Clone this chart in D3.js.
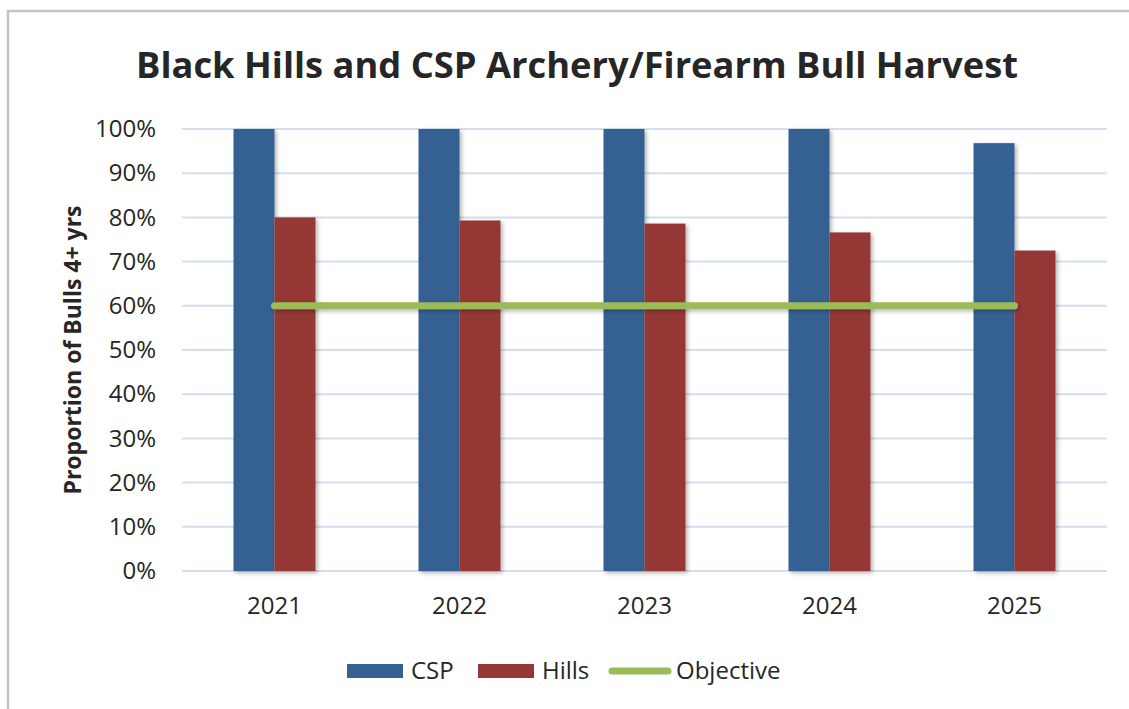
<!DOCTYPE html>
<html>
<head>
<meta charset="utf-8">
<script src="https://cdn.jsdelivr.net/npm/d3@7"></script>
<style>
	body { margin: 0; background: #fff; }
	text { font-family: 'Open Sans', sans-serif; fill: #262626; }
</style>
</head>
<body>
<script>
var years = ['2021', '2022', '2023', '2024', '2025'];
var seriesNames = ['CSP', 'Hills'];
var cspValues = [1.00, 1.00, 1.00, 1.00, 0.968];
var hillsValues = [0.800, 0.793, 0.786, 0.766, 0.725];
var objectiveValues = [0.60, 0.60, 0.60, 0.60, 0.60];
var yTicks = [0, 0.1, 0.2, 0.3, 0.4, 0.5, 0.6, 0.7, 0.8, 0.9, 1.0];
var legendItems = ['CSP', 'Hills', 'Objective'];

var colors = { CSP: '#366092', Hills: '#953735', Objective: '#9bbb59' };

var width = 1129, height = 709;
var plot = { left: 182, right: 1107, top: 129, bottom: 571 };

var svg = d3.select('body').append('svg')
	.attr('width', width)
	.attr('height', height);

// drop shadow like the office chart (user space so flat lines keep it)
var defs = svg.append('defs');
defs.append('filter').attr('id', 'shadow')
	.attr('filterUnits', 'userSpaceOnUse')
	.attr('x', 0).attr('y', 0).attr('width', width).attr('height', height)
	.append('feDropShadow')
	.attr('dx', 2).attr('dy', 2).attr('stdDeviation', 2)
	.attr('flood-color', '#000').attr('flood-opacity', 0.3);

svg.append('rect').attr('width', width).attr('height', height).attr('fill', '#fff');

// chart border (cropped on right and bottom)
svg.append('rect')
	.attr('x', 8).attr('y', 11)
	.attr('width', 1160).attr('height', 760)
	.attr('fill', 'none').attr('stroke', '#c4c4c4').attr('stroke-width', 2.5);

var x0 = d3.scaleBand().domain(years)
	.range([plot.left, plot.right])
	.paddingInner(0.557).paddingOuter(0.2785);
var x1 = d3.scaleBand().domain(seriesNames).range([0, x0.bandwidth()]);
var y = d3.scaleLinear().domain([0, 1]).range([plot.bottom, plot.top]);

// gridlines
svg.append('g').selectAll('line').data(yTicks).enter().append('line')
	.attr('x1', plot.left).attr('x2', plot.right)
	.attr('y1', function (d) { return y(d); })
	.attr('y2', function (d) { return y(d); })
	.attr('stroke', '#d3dfee').attr('stroke-width', 2);

// y axis labels
var yAxis = d3.axisLeft(y).tickValues(yTicks).tickFormat(d3.format('.0%')).tickSize(0).tickPadding(0);
var yg = svg.append('g').attr('transform', 'translate(156,0)').call(yAxis);
yg.select('.domain').remove();
yg.selectAll('text').attr('font-size', 24).attr('font-family', "'Open Sans', sans-serif").attr('fill', '#262626');

// x axis labels
var xAxis = d3.axisBottom(x0).tickSize(0).tickPadding(0);
var xg = svg.append('g').attr('transform', 'translate(0,' + (plot.bottom + 26) + ')').call(xAxis);
xg.select('.domain').remove();
xg.selectAll('text').attr('font-size', 24).attr('font-family', "'Open Sans', sans-serif").attr('fill', '#262626');

// bars
var rows = years.map(function (yr, i) {
	return { year: yr, CSP: cspValues[i], Hills: hillsValues[i] };
});
svg.append('g').selectAll('g').data(rows).enter().append('g')
	.attr('transform', function (d) { return 'translate(' + x0(d.year) + ',0)'; })
	.selectAll('rect')
	.data(function (d) { return seriesNames.map(function (s) { return { key: s, value: d[s] }; }); })
	.enter().append('rect')
	.attr('x', function (d) { return x1(d.key); })
	.attr('width', x1.bandwidth())
	.attr('y', function (d) { return y(d.value); })
	.attr('height', function (d) { return y(0) - y(d.value); })
	.attr('fill', function (d) { return colors[d.key]; })
	.attr('filter', 'url(#shadow)');

// objective line
var line = d3.line()
	.x(function (d, i) { return x0(years[i]) + x0.bandwidth() / 2; })
	.y(function (d) { return y(d); });
svg.append('path').datum(objectiveValues)
	.attr('d', line)
	.attr('fill', 'none')
	.attr('stroke', colors.Objective)
	.attr('stroke-width', 7)
	.attr('stroke-linecap', 'round')
	.attr('filter', 'url(#shadow)');

// title
svg.append('text')
	.attr('x', 577).attr('y', 78)
	.attr('text-anchor', 'middle')
	.attr('font-size', 36.3).attr('font-weight', 'bold')
	.attr('fill', '#000')
	.text('Black Hills and CSP Archery/Firearm Bull Harvest');

// y axis title
svg.append('text')
	.attr('transform', 'translate(81,350) rotate(-90)')
	.attr('text-anchor', 'middle')
	.attr('font-size', 23).attr('font-weight', 'bold')
	.attr('fill', '#000')
	.text('Proportion of Bulls 4+ yrs');

// legend
var legendX = [347, 478, 609];
var legend = svg.append('g').selectAll('g').data(legendItems).enter().append('g')
	.attr('transform', function (d, i) { return 'translate(' + legendX[i] + ',671)'; });
legend.each(function (d) {
	var g = d3.select(this);
	if (d === 'Objective') {
		g.append('line').attr('x1', 3).attr('x2', 59).attr('y1', 0).attr('y2', 0)
			.attr('stroke', colors.Objective).attr('stroke-width', 7).attr('stroke-linecap', 'round');
		g.append('text').attr('x', 67).attr('y', 8).attr('font-size', 24).text(d);
	} else {
		g.append('rect').attr('x', 0).attr('y', -7).attr('width', 56).attr('height', 14)
			.attr('fill', colors[d]);
		g.append('text').attr('x', 64).attr('y', 8).attr('font-size', 24).text(d);
	}
});
</script>
</body>
</html>
